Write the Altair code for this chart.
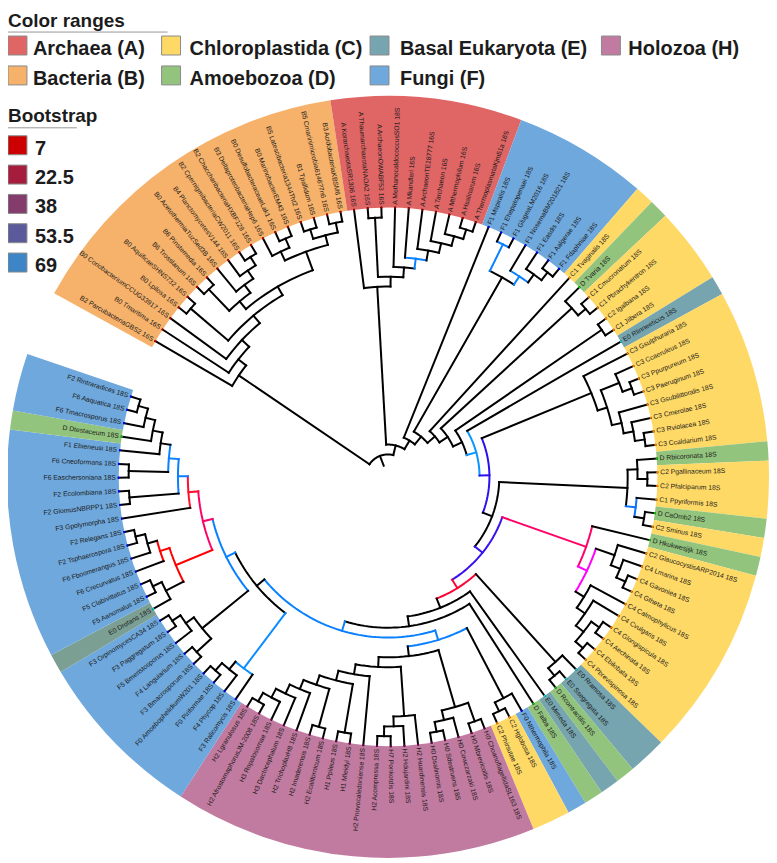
import math
import altair as alt
import pandas as pd

LEAVES = """B2 ParcubacteriaGBS2 16S|B0 Tmaritima 16S|B0 CoriobacteriumCCUG33917 16S|B0 Lpilosa 16S|B0 AquificaeSHNS732 16S|B6 Trosslanum 16S|B6 Pinstemedia 16S|B0 AcetothermiaTuzSed3B 16S|B4 PlanctomycetesV144 16S|B2 CpernigmibacteriaCW2011 16S|B2 ChaccharibacteriaHXBF128 16S|B3 DeltaproteobacteriaHep6 16S|B0 DesulfobacteraceaeLak1 16S|B0 MarinobacterEM43 16S|B5 Latescibacteria1344Tht2 16S|B1 Tpallidum 16S|B5 Cmarinimicrobia6146?7n6 16S|B3 AcidobacteriaKBSM6 16S|A KorarchaeotaSR1306 16S|A ThaumarchaeotaNAOA2 16S|A ArchaeonOWABF53 16S|A MethanocaldococcusSO1 18S|A Mkandleri 16S|A ArchaeonTE18777 16S|A Tarchaeon 16S|A Mthermophilum 16S|A Hsalinarum 16S|A ThermoplasmataKjm51a 16S|F1 Mspiralis 18S|F1 Ehepatopenaei 18S|F1 GlugeaLM2016 18S|F1 NosemaBM201821 18S|F1 Easdis 18S|F1 Aalgerae 18S|F1 Fdaphniae 18S|C1 Tvaginalis 18S|D Tvaria 18S|C1 Cmucronatum 18S|C1 Pbrachykentron 18S|C2 Igalbana 18S|C1 Jiibera 18S|E0 Rlinneeticus 18S|C3 Gsulphuraria 18S|C3 Ccaeruleus 18S|C3 Ppurpureum 18S|C3 Paeruginum 18S|C3 Gsubilittoralis 18S|C3 Cmerolae 18S|C3 Rviolacea 18S|C3 Ccaldarium 18S|D Rbicoronata 18S|C2 Pgallinaceum 18S|C2 Pfalciparum 18S|C1 Ppyriformis 18S|D CaOmb2 18S|C2 Sminus 18S|D Hkukwesjijk 18S|C2 GlaucocystisARP2014 18S|C4 Lmarina 18S|C4 Gavoniea 18S|C4 Gtheta 18S|C4 Calmophylicus 18S|C4 Cvulgaris 18S|C4 Glongispicula 18S|C4 Aechinata 18S|C4 Ebilobata 18S|C4 Pbrevispinosa 18S|E0 Rramosa 18S|E0 Ssegregata 18S|D Rcontractilis 18S|E0 Mimeda 18S|D Falba 18S|F0 Nthermophila 18S|C2 Hglobosa 18S|C2 Phirsutae 18S|H0 ChoanoflagellidaSL163 18S|H0 Mbrevicollis 18S|H0 Cowczarzaki 18S|H0 Sdestruens 18S|H0 Dsalinomis 18S|H2 Huardinensis 18S|H2 Hdujardini 18S|H7 Ponkotdis 18S|H2 Acompressa 18S|H2 Pnovocaledoniense 18S|H1 Mleidyi 18S|H1 Ppileus 18S|H2 Ecalifornicum 18S|H2 Imaderensis 18S|H2 TrichoplaxH8 18S|H3 Dactocephalum 18S|H3 Ropalosomae 18S|H2 AfrostomaphorusJM-2008 18S|H2 Lgranulosus 18S|F3 Ralicomycis 18S|F4 Phycop 18S|F0 Piriformae 18S|F0 AmoebophelidiumW201 18S|F3 Bmacrosporum 18S|F4 Languiarium 18S|F5 Bmeristosporus 18S|F3 Paggregatum 18S|F3 OrpinomycesCA34 18S|E0 Drotans 18S|F5 Aanomalus 18S|F5 Clabivittatus 18S|F6 Crecurvatus 18S|F6 Fboomerangus 18S|F2 Tsphaerospora 18S|F2 Relegans 18S|F3 Gpolymorpha 18S|F2 GlomusNBRPP1 18S|F2 Ecolombiana 18S|F6 Easchersoniana 18S|F6 Cneoformans 18S|F1 Ebieneusi 18S|D Dtestaceum 18S|F6 Tmacrosporus 18S|F6 Aaquatica 18S|F2 Rintraradices 18S""".split("|")

# Topology: leaves are indexes into LEAVES, clockwise.
C_BACT = (0, (1, (2, ((3, 4), (((5, 6), (7, (8, (9, 10)))), ((11, (12, 13)), ((14, 15), (16, 17))))))))
C_ARCH = (18, ((19, 20), (21, (22, (23, (24, (25, (26, 27))))))))
C_MICRO = ((29, 30), (31, (32, (33, 34))))
C_RHOD = (42, ((43, (44, 45)), (46, (47, (48, 49)))))
C_API = ((50, (51, 52)), (53, (54, 55)))
C_GLAU = (56, ((57, (58, (59, 60))), (61, (62, ((63, 64), (65, 66))))))
C_ERAM = (67, (68, 69))
C_HOLO = (((75, 76), (77, (78, 79))), ((80, (81, (82, 83))), (84, ((85, 86), ((87, 88), (89, (90, (91, (92, 93)))))))))
C_T = (110, ((111, 112), ((113, 114), (115, (116, (117, (118, 119)))))))
C_RED = ((103, (104, 105)), (106, (107, (108, 109))))
C_F3 = ((98, 99), (100, (101, 102)))
C_F0 = (94, (95, (96, 97)))
C_FUNGI = (C_F0, (C_F3, (C_RED, C_T)))
C_LOW = (71, (((72, (73, 74)), C_HOLO), C_FUNGI))
C_MID = (C_API, (C_GLAU, (C_ERAM, (70, C_LOW))))
TREE = (C_BACT, (C_ARCH, (28, (C_MICRO, (35, ((36, (37, 38)), ((39, 40), (41, (C_RHOD, C_MID)))))))))

BLUE = "#0a80ff"
BRANCH_COLORS = {
    (22, 27): BLUE, (29, 30): BLUE, (31, 34): BLUE, (41, 119): "#0a96ff",
    (42, 119): "#2a10f0", (56, 119): "#3a10f0", (67, 119): "#ff0033",
    (56, 66): "#ff0066", (57, 66): "#ff00ff", (53, 55): "#0a70ff",
    (72, 119): BLUE, (72, 93): BLUE, (98, 119): BLUE, (94, 97): "#0a8cff",
    (103, 119): "#ff0066", (110, 119): "#ff1030", (103, 109): "#ff0000",
    (106, 109): "#ff0000", (111, 119): BLUE, (113, 119): BLUE,
}
GROUP_COLORS = {"A": "#E06666", "B": "#F6B26B", "C": "#FFD966", "D": "#93C47D",
                "E": "#76A5AF", "F": "#6FA8DC", "H": "#C27BA0"}
TIP_COLORS = {"A": "#a00000", "B": "#c00000", "C": "#ff8000", "D": "#00cc00",
              "E": "#00e0e0", "F": "#0000ff", "H": "#700050"}
RANGE_LABELS = ["Archaea (A)", "Bacteria (B)", "Chloroplastida (C)", "Amoebozoa (D)",
                "Basal Eukaryota (E)", "Fungi (F)", "Holozoa (H)"]
RANGE_KEYS = ["A", "B", "C", "D", "E", "F", "H"]
BOOT_LABELS = ["7", "22.5", "38", "53.5", "69"]
BOOT_COLORS = ["#CC0000", "#A61C3C", "#843C6C", "#5B5B9B", "#3D85C6"]

# page geometry
CX, CY = 389, 477
W, H = 763, 851
START, STEP = 298.8, 350 / 120
R_TIP, R_OUT, LEVEL = 270, 382, 9.9


def leaf_angle(i):
    return START + (i + 0.5) * STEP


def polar(a, r):
    t = math.radians(a)
    return r * math.sin(t), r * math.cos(t)


rows = []
seg_id = [0]


def add_path(points, color):
    seg_id[0] += 1
    for k, (a, r) in enumerate(points):
        x, y = polar(a, r)
        rows.append({"x": x, "y": y, "seg": seg_id[0], "k": k, "c": color})


def measure(node):
    if isinstance(node, int):
        return dict(a=leaf_angle(node), h=0, lo=node, hi=node, kids=[], node=node)
    kids = [measure(c) for c in node]
    return dict(a=(kids[0]["a"] + kids[-1]["a"]) / 2, h=1 + max(k["h"] for k in kids),
                lo=kids[0]["lo"], hi=kids[-1]["hi"], kids=kids, node=node)


def node_r(n):
    return R_TIP - LEVEL * n["h"]


def draw(n, parent_r):
    color = BRANCH_COLORS.get((n["lo"], n["hi"]), "#000000") if n["kids"] else "#000000"
    r = node_r(n)
    add_path([(n["a"], parent_r), (n["a"], r)], color)
    if n["kids"]:
        a0, a1 = n["kids"][0]["a"], n["kids"][-1]["a"]
        steps = max(1, int((a1 - a0) / 1.5))
        add_path([(a0 + (a1 - a0) * s / steps, r) for s in range(steps + 1)], color)
        for k in n["kids"]:
            draw(k, r)


root = measure(TREE)
draw(root, 12)
tree_df = pd.DataFrame(rows)

# range sectors: neighbours of one colour are merged
leaf_groups = [s[0] for s in LEAVES]
sectors = []
for i, g in enumerate(leaf_groups):
    col = "#7C9F94" if LEAVES[i].startswith("E0 Drotans") else GROUP_COLORS[g]
    if sectors and sectors[-1]["c"] == col:
        sectors[-1]["a1"] = START + (i + 1) * STEP
    else:
        sectors.append({"a0": START + i * STEP, "a1": START + (i + 1) * STEP, "c": col,
                        "r0": R_TIP, "r1": R_OUT})
sector_df = pd.DataFrame(sectors)

label_rows = []
for i, s in enumerate(LEAVES):
    a = leaf_angle(i) % 360
    right = a < 180
    rot = (a - 90) % 360 if right else (a + 90) % 360
    x, y = polar(a, R_TIP + 3)
    tx, ty = polar(a, R_TIP)
    label_rows.append({"t": s, "x": x, "y": y, "rot": rot, "right": right, "tx": tx, "ty": ty,
                       "tc": TIP_COLORS[s[0]]})
label_df = pd.DataFrame(label_rows)

sx = alt.Scale(domain=[-(CX - 8), W - (CX - 8)], nice=False, zero=False)
sy = alt.Scale(domain=[(CY - 8) - H, CY - 8], nice=False, zero=False)
X = lambda f: alt.X(f, scale=sx, axis=None, title=None)
Y = lambda f: alt.Y(f, scale=sy, axis=None, title=None)
FONT = "Liberation Sans"


def px(v):
    return v - CX


def py(v):
    return CY - v


sector_layer = alt.Chart(sector_df).mark_arc().encode(
    theta=alt.Theta("a0:Q", scale=alt.Scale(domain=[0, 360], range=[0, 2 * math.pi])),
    theta2="a1:Q",
    radius=alt.Radius("r0:Q", scale=None),
    radius2="r1:Q",
    color=alt.Color("c:N", scale=None),
    x=alt.X(datum=0, scale=sx, axis=None),
    y=alt.Y(datum=0, scale=sy, axis=None),
)
tree_layer = alt.Chart(tree_df).mark_line(strokeWidth=2, strokeCap="square", strokeJoin="round").encode(
    x=X("x:Q"), y=Y("y:Q"), detail="seg:N", order="k:Q", color=alt.Color("c:N", scale=None))
tip_layer = alt.Chart(label_df).mark_point(filled=True, size=5, opacity=1).encode(
    x=X("tx:Q"), y=Y("ty:Q"), color=alt.Color("tc:N", scale=None))


def labels(df, align):
    return alt.Chart(df).mark_text(font=FONT, fontSize=6.8, align=align, baseline="middle", color="#1a1a1a").encode(
        x=X("x:Q"), y=Y("y:Q"), text="t:N", angle=alt.Angle("rot:Q", scale=None))


label_r = labels(label_df[label_df.right], "left")
label_l = labels(label_df[~label_df.right], "right")

# legends
RANGE_CELLS = [(8, 35, 33), (8, 65, 33), (162, 35, 190), (162, 65, 190), (371, 35, 401), (371, 65, 401), (603, 35, 630)]
range_df = pd.DataFrame([
    {"t": t, "c": GROUP_COLORS[k], "x": px(c[0]), "x2": px(c[0] + 19), "y": py(c[1]), "y2": py(c[1] + 19),
     "tx": px(c[2]), "ty": py(c[1] + 19)}
    for t, k, c in zip(RANGE_LABELS, RANGE_KEYS, RANGE_CELLS)])
boot_df = pd.DataFrame([
    {"t": t, "c": c, "x": px(8), "x2": px(27), "y": py(135 + 29.4 * i), "y2": py(154 + 29.4 * i),
     "tx": px(35), "ty": py(154 + 29.4 * i)}
    for i, (t, c) in enumerate(zip(BOOT_LABELS, BOOT_COLORS))])
legend_df = pd.concat([range_df, boot_df])
swatches = alt.Chart(legend_df).mark_rect(stroke="#8a8a8a", strokeWidth=1).encode(
    x=X("x:Q"), x2="x2:Q", y=Y("y:Q"), y2="y2:Q", color=alt.Color("c:N", scale=None))
legend_text = alt.Chart(legend_df).mark_text(font=FONT, fontSize=20, fontWeight="bold", align="left",
                                             baseline="alphabetic", color="#1c1c1c").encode(
    x=X("tx:Q"), y=Y("ty:Q"), text="t:N")
title_df = pd.DataFrame([
    {"t": "Color ranges", "x": px(8), "y": py(26)},
    {"t": "Bootstrap", "x": px(8), "y": py(121)}])
titles = alt.Chart(title_df).mark_text(font=FONT, fontSize=19, fontWeight="bold", align="left",
                                       baseline="alphabetic", color="#1c1c1c").encode(
    x=X("x:Q"), y=Y("y:Q"), text="t:N")
rule_df = pd.DataFrame([
    {"x": px(8), "x2": px(168), "y": py(31)},
    {"x": px(8), "x2": px(77), "y": py(127)}])
rules = alt.Chart(rule_df).mark_rule(color="#999999", strokeWidth=1).encode(
    x=X("x:Q"), x2="x2:Q", y=Y("y:Q"))

chart = alt.layer(sector_layer, tree_layer, tip_layer, label_r, label_l, swatches, legend_text, titles, rules).properties(
    width=W, height=H, padding=0, background="white",
    autosize=alt.AutoSizeParams(type="none", contains="content"),
).configure_view(stroke=None)
chart.save("out.html", embed_options={"renderer": "svg", "actions": False})
